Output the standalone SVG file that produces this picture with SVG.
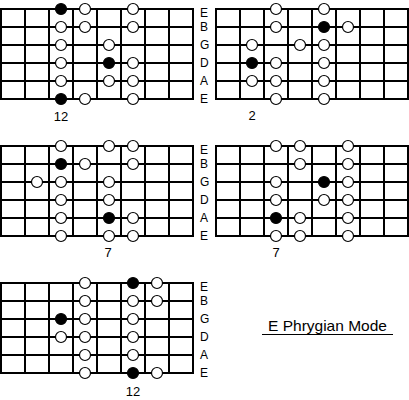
<svg xmlns="http://www.w3.org/2000/svg" xmlns:xlink="http://www.w3.org/1999/xlink" width="409" height="400" viewBox="0 0 409 400">
<style>
.g line{stroke:#000;stroke-width:2}
.o{fill:#fff;stroke:#000;stroke-width:1.2}
.f{fill:#000;stroke:#000;stroke-width:1.2}
.s{font-family:"Liberation Sans",Arial,sans-serif;font-size:12px;fill:#000}
.n{font-family:"Liberation Sans",Arial,sans-serif;font-size:13px;fill:#000;text-anchor:middle}
.t{font-family:"Liberation Sans",Arial,sans-serif;font-size:15px;fill:#000}
</style>
<defs>
<g id="grid" class="g">
<line x1="0" y1="0" x2="192" y2="0"/>
<line x1="0" y1="18" x2="192" y2="18"/>
<line x1="0" y1="36" x2="192" y2="36"/>
<line x1="0" y1="54" x2="192" y2="54"/>
<line x1="0" y1="72" x2="192" y2="72"/>
<line x1="0" y1="90" x2="192" y2="90"/>
<line x1="0" y1="-1" x2="0" y2="91"/>
<line x1="24" y1="0" x2="24" y2="90"/>
<line x1="48" y1="0" x2="48" y2="90"/>
<line x1="72" y1="0" x2="72" y2="90"/>
<line x1="96" y1="0" x2="96" y2="90"/>
<line x1="120" y1="0" x2="120" y2="90"/>
<line x1="144" y1="0" x2="144" y2="90"/>
<line x1="168" y1="0" x2="168" y2="90"/>
<line x1="192" y1="-1" x2="192" y2="91"/>
</g>
<g id="labels" class="s">
<text x="0" y="8">E</text>
<text x="0" y="22">B</text>
<text x="0" y="40">G</text>
<text x="0" y="58">D</text>
<text x="0" y="76">A</text>
<text x="0" y="94">E</text>
</g>
</defs>

<g id="pos1">
<use xlink:href="#grid" href="#grid" x="1" y="9"/>
<use xlink:href="#labels" href="#labels" x="200" y="9"/>
<circle class="f" cx="61" cy="9" r="5.5"/><circle class="o" cx="85" cy="9" r="5.5"/><circle class="o" cx="133" cy="9" r="5.5"/>
<circle class="o" cx="61" cy="27" r="5.5"/><circle class="o" cx="85" cy="27" r="5.5"/><circle class="o" cx="133" cy="27" r="5.5"/>
<circle class="o" cx="61" cy="45" r="5.5"/><circle class="o" cx="109" cy="45" r="5.5"/>
<circle class="o" cx="61" cy="63" r="5.5"/><circle class="f" cx="109" cy="63" r="5.5"/><circle class="o" cx="133" cy="63" r="5.5"/>
<circle class="o" cx="61" cy="81" r="5.5"/><circle class="o" cx="109" cy="81" r="5.5"/><circle class="o" cx="133" cy="81" r="5.5"/>
<circle class="f" cx="61" cy="99" r="5.5"/><circle class="o" cx="85" cy="99" r="5.5"/><circle class="o" cx="133" cy="99" r="5.5"/>
<text class="n" x="61" y="121">12</text>
</g>

<g id="pos2">
<use xlink:href="#grid" href="#grid" x="216" y="9"/>
<circle class="o" cx="276" cy="9" r="5.5"/><circle class="o" cx="324" cy="9" r="5.5"/>
<circle class="o" cx="276" cy="27" r="5.5"/><circle class="f" cx="324" cy="27" r="5.5"/><circle class="o" cx="348" cy="27" r="5.5"/>
<circle class="o" cx="252" cy="45" r="5.5"/><circle class="o" cx="300" cy="45" r="5.5"/><circle class="o" cx="324" cy="45" r="5.5"/>
<circle class="f" cx="252" cy="63" r="5.5"/><circle class="o" cx="276" cy="63" r="5.5"/><circle class="o" cx="324" cy="63" r="5.5"/>
<circle class="o" cx="252" cy="81" r="5.5"/><circle class="o" cx="276" cy="81" r="5.5"/><circle class="o" cx="324" cy="81" r="5.5"/>
<circle class="o" cx="276" cy="99" r="5.5"/><circle class="o" cx="324" cy="99" r="5.5"/>
<text class="n" x="252" y="120">2</text>
</g>

<g id="pos3">
<use xlink:href="#grid" href="#grid" x="1" y="146"/>
<use xlink:href="#labels" href="#labels" x="200" y="146"/>
<circle class="o" cx="61" cy="146" r="5.5"/><circle class="o" cx="109" cy="146" r="5.5"/><circle class="o" cx="133" cy="146" r="5.5"/>
<circle class="f" cx="61" cy="164" r="5.5"/><circle class="o" cx="85" cy="164" r="5.5"/><circle class="o" cx="133" cy="164" r="5.5"/>
<circle class="o" cx="37" cy="182" r="5.5"/><circle class="o" cx="61" cy="182" r="5.5"/><circle class="o" cx="109" cy="182" r="5.5"/>
<circle class="o" cx="61" cy="200" r="5.5"/><circle class="o" cx="109" cy="200" r="5.5"/>
<circle class="o" cx="61" cy="218" r="5.5"/><circle class="f" cx="109" cy="218" r="5.5"/><circle class="o" cx="133" cy="218" r="5.5"/>
<circle class="o" cx="61" cy="236" r="5.5"/><circle class="o" cx="109" cy="236" r="5.5"/><circle class="o" cx="133" cy="236" r="5.5"/>
<text class="n" x="108" y="257">7</text>
</g>

<g id="pos4">
<use xlink:href="#grid" href="#grid" x="216" y="146"/>
<circle class="o" cx="276" cy="146" r="5.5"/><circle class="o" cx="300" cy="146" r="5.5"/><circle class="o" cx="348" cy="146" r="5.5"/>
<circle class="o" cx="300" cy="164" r="5.5"/><circle class="o" cx="348" cy="164" r="5.5"/>
<circle class="o" cx="276" cy="182" r="5.5"/><circle class="f" cx="324" cy="182" r="5.5"/><circle class="o" cx="348" cy="182" r="5.5"/>
<circle class="o" cx="276" cy="200" r="5.5"/><circle class="o" cx="324" cy="200" r="5.5"/><circle class="o" cx="348" cy="200" r="5.5"/>
<circle class="f" cx="276" cy="218" r="5.5"/><circle class="o" cx="300" cy="218" r="5.5"/><circle class="o" cx="348" cy="218" r="5.5"/>
<circle class="o" cx="276" cy="236" r="5.5"/><circle class="o" cx="300" cy="236" r="5.5"/><circle class="o" cx="348" cy="236" r="5.5"/>
<text class="n" x="276" y="257">7</text>
</g>

<g id="pos5">
<use xlink:href="#grid" href="#grid" x="1" y="283"/>
<use xlink:href="#labels" href="#labels" x="200" y="283"/>
<circle class="o" cx="85" cy="283" r="5.5"/><circle class="f" cx="133" cy="283" r="5.5"/><circle class="o" cx="157" cy="283" r="5.5"/>
<circle class="o" cx="85" cy="301" r="5.5"/><circle class="o" cx="133" cy="301" r="5.5"/><circle class="o" cx="157" cy="301" r="5.5"/>
<circle class="f" cx="61" cy="319" r="5.5"/><circle class="o" cx="85" cy="319" r="5.5"/><circle class="o" cx="133" cy="319" r="5.5"/>
<circle class="o" cx="61" cy="337" r="5.5"/><circle class="o" cx="85" cy="337" r="5.5"/><circle class="o" cx="133" cy="337" r="5.5"/>
<circle class="o" cx="85" cy="355" r="5.5"/><circle class="o" cx="133" cy="355" r="5.5"/>
<circle class="o" cx="85" cy="373" r="5.5"/><circle class="f" cx="133" cy="373" r="5.5"/><circle class="o" cx="157" cy="373" r="5.5"/>
<text class="n" x="133" y="396">12</text>
</g>

<g id="title">
<text class="t" x="268" y="331" textLength="119" lengthAdjust="spacingAndGlyphs">E Phrygian Mode</text>
<line x1="262" y1="334.5" x2="393" y2="334.5" stroke="#000" stroke-width="1"/>
</g>
</svg>
